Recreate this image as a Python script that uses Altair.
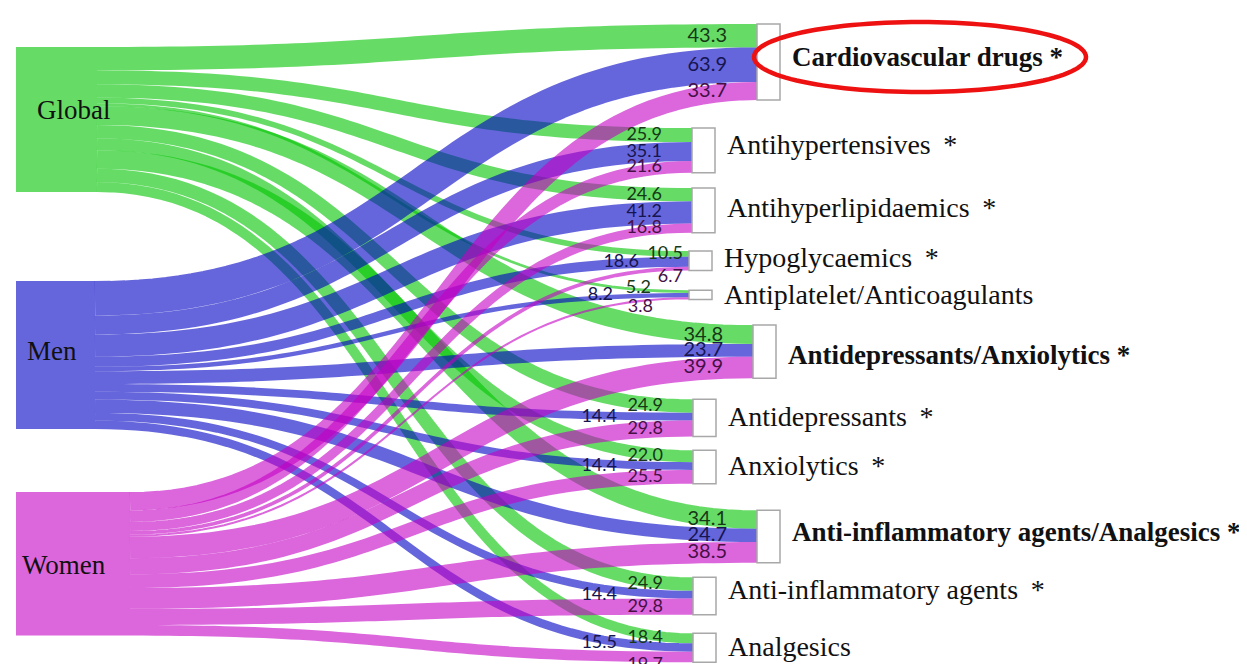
import altair as alt
import numpy as np
import pandas as pd

# ---------------- data ----------------
sources = ["Global", "Men", "Women"]
targets = ["Cardiovascular drugs *", "Antihypertensives *", "Antihyperlipidaemics *",
           "Hypoglycaemics *", "Antiplatelet/Anticoagulants", "Antidepressants/Anxiolytics *",
           "Antidepressants *", "Anxiolytics *", "Anti-inflammatory agents/Analgesics *",
           "Anti-inflammatory agents *", "Analgesics"]
summary_group = [True, False, False, False, False, True, False, False, True, False, False]
global_vals = [43.3, 25.9, 24.6, 10.5, 5.2, 34.8, 24.9, 22.0, 34.1, 24.9, 18.4]
men_vals = [63.9, 35.1, 41.2, 18.6, 8.2, 23.7, 14.4, 14.4, 24.7, 14.4, 15.5]
women_vals = [33.7, 21.6, 16.8, 6.7, 3.8, 39.9, 29.8, 25.5, 38.5, 29.8, 19.7]
series = [global_vals, men_vals, women_vals]

# ---------------- style / layout ----------------
link_colors = ["#00c500", "#0000c5", "#c500c5"]
label_colors = ["#163816", "#15154f", "#461046"]
W, H = 1231, 656
K = 0.54                      # px per value unit


def yu(px):
    return px / K


src_x0 = 8
src_x1 = [89, 87, 122]
src_top_px = 39
src_gap_px = [89, 63]
src_label_x = [29, 19, 14]
src_label_dy = [-9, -3, 2]
tgt_top_px = 16
tgt_gap_px = [28, 15.4, 18.4, 19.7, 25.7, 21, 13.7, 26.6, 14.5, 18.7]
tgt_x = [749, 684, 684, 681, 681, 745, 685, 685, 749, 685, 685]
tgt_label_dy = [-4, -4, -1, -2, 1, 4, 0, 0, -4, -5, 0]
node_w = 23
default_gap = 30
label_gap = {(1, 6): 76, (1, 7): 76, (1, 9): 76, (1, 10): 76,
             (0, 3): 6, (1, 3): 50, (2, 3): 6,
             (0, 4): 38, (1, 4): 76, (2, 4): 36}
label_dy = {(2, 3): 8, (0, 4): -4, (2, 4): 9, (1, 10): -4, (2, 10): 8}

# ---------------- sankey layout from values ----------------
src_tot = [sum(s) for s in series]
tgt_tot = [sum(series[i][j] for i in range(3)) for j in range(len(targets))]

src_top = []
y = yu(src_top_px)
for i in range(3):
    src_top.append(y)
    y += src_tot[i] + (yu(src_gap_px[i]) if i < 2 else 0)

tgt_top = []
y = yu(tgt_top_px)
for j in range(len(targets)):
    tgt_top.append(y)
    y += tgt_tot[j] + (yu(tgt_gap_px[j]) if j < len(tgt_gap_px) else 0)

link_rows, val_rows = [], []
ts = np.linspace(0, 1, 64)
for i, s in enumerate(sources):
    off = src_top[i]
    for j, t in enumerate(targets):
        v = series[i][j]
        ys = off + v / 2
        off += v
        yt = tgt_top[j] + sum(series[k][j] for k in range(i)) + v / 2
        xs, xt = src_x1[i], tgt_x[j]
        xm = (xs + xt) / 2
        for n, tt in enumerate(ts):
            a, b, c, d = (1 - tt) ** 3, 3 * (1 - tt) ** 2 * tt, 3 * (1 - tt) * tt ** 2, tt ** 3
            link_rows.append(dict(link=f"{i}-{j}", source=s, o=n, v=v,
                                  x=a * xs + b * xm + c * xm + d * xt,
                                  y=a * ys + b * ys + c * yt + d * yt))
        val_rows.append(dict(x=xt - label_gap.get((i, j), default_gap),
                             y=yt + yu(label_dy.get((i, j), 0)),
                             label=f"{v:.1f}", tc=label_colors[i],
                             big=summary_group[j]))

links_df = pd.DataFrame(link_rows)
val_df = pd.DataFrame(val_rows)
src_df = pd.DataFrame(dict(source=sources, x=[src_x0] * 3, x2=src_x1,
                           y=src_top, y2=[src_top[i] + src_tot[i] for i in range(3)],
                           lx=src_label_x,
                           ly=[src_top[i] + src_tot[i] / 2 + yu(src_label_dy[i]) for i in range(3)]))
tgt_df = pd.DataFrame(dict(target=targets, bold=summary_group, x=tgt_x,
                           x2=[x + node_w for x in tgt_x],
                           y=tgt_top, y2=[tgt_top[j] + tgt_tot[j] for j in range(len(targets))],
                           lx=[x + node_w + 12 for x in tgt_x],
                           ly=[tgt_top[j] + tgt_tot[j] / 2 + yu(tgt_label_dy[j])
                               for j in range(len(targets))]))
tgt_df["text"] = [t if b else t.replace(" *", "\u00a0\u2009*") for t, b in zip(targets, summary_group)]

# ---------------- scales ----------------
xs_ = alt.Scale(domain=[0, W], nice=False, zero=False)
ys_ = alt.Scale(domain=[0, yu(H)], nice=False, zero=False, reverse=True)
col_ = alt.Scale(domain=sources, range=link_colors)

links = alt.Chart(links_df).mark_line(opacity=0.6, strokeCap="butt").encode(
    x=alt.X("x:Q", scale=xs_, axis=None),
    y=alt.Y("y:Q", scale=ys_, axis=None),
    color=alt.Color("source:N", scale=col_, legend=None),
    size=alt.Size("v:Q", scale=alt.Scale(domain=[0, 100], range=[0, 100 * K]), legend=None),
    detail="link:N",
    order="o:Q",
)

src_rects = alt.Chart(src_df).mark_rect(opacity=0.6).encode(
    x=alt.X("x:Q", scale=xs_, axis=None), x2="x2:Q",
    y=alt.Y("y:Q", scale=ys_, axis=None), y2="y2:Q",
    color=alt.Color("source:N", scale=col_, legend=None),
)

tgt_rects = alt.Chart(tgt_df).mark_rect(fill="white", stroke="#a8a8a8", strokeWidth=1.5).encode(
    x=alt.X("x:Q", scale=xs_, axis=None), x2="x2:Q",
    y=alt.Y("y:Q", scale=ys_, axis=None), y2="y2:Q",
)


def val_layer(big, fs):
    return alt.Chart(val_df[val_df["big"] == big]).mark_text(
        align="right", baseline="middle", font="Lato", fontSize=fs).encode(
        x=alt.X("x:Q", scale=xs_, axis=None),
        y=alt.Y("y:Q", scale=ys_, axis=None),
        text="label:N",
        fill=alt.Fill("tc:N", scale=None),
    )


def tgt_label_layer(bold):
    return alt.Chart(tgt_df[tgt_df["bold"] == bold]).mark_text(
        align="left", baseline="middle", font="Liberation Serif",
        fontSize=27 if bold else 28, fontWeight="bold" if bold else "normal",
        color="#111111").encode(
        x=alt.X("lx:Q", scale=xs_, axis=None),
        y=alt.Y("ly:Q", scale=ys_, axis=None),
        text="text:N",
    )


src_labels = alt.Chart(src_df).mark_text(
    align="left", baseline="middle", font="Liberation Serif", fontSize=27,
    color="#111111").encode(
    x=alt.X("lx:Q", scale=xs_, axis=None),
    y=alt.Y("ly:Q", scale=ys_, axis=None),
    text="source:N",
)

# red ellipse highlighting the first category label
rx, ry = 166, 35
ang = np.linspace(0, 2 * np.pi, 120, endpoint=False)
path = "M " + " L ".join(f"{np.cos(a):.4f} {ry / rx * np.sin(a):.4f}" for a in ang) + " Z"
ell_df = pd.DataFrame(dict(x=[tgt_df.lx[0] + 128], y=[tgt_df.ly[0] - yu(1)]))
ellipse = alt.Chart(ell_df).mark_point(
    shape=path, size=(2 * rx) ** 2, filled=False, stroke="#ee1111", strokeWidth=4.5,
    opacity=1).encode(
    x=alt.X("x:Q", scale=xs_, axis=None),
    y=alt.Y("y:Q", scale=ys_, axis=None),
)

chart = alt.layer(
    links, src_rects, tgt_rects,
    val_layer(True, 20), val_layer(False, 18),
    tgt_label_layer(False), tgt_label_layer(True),
    src_labels, ellipse,
).properties(
    width=W, height=H, padding=0,
    autosize=alt.AutoSizeParams(type="none"),
).configure_view(stroke=None)

chart.save("out.html", embed_options={"renderer": "svg", "actions": False})
